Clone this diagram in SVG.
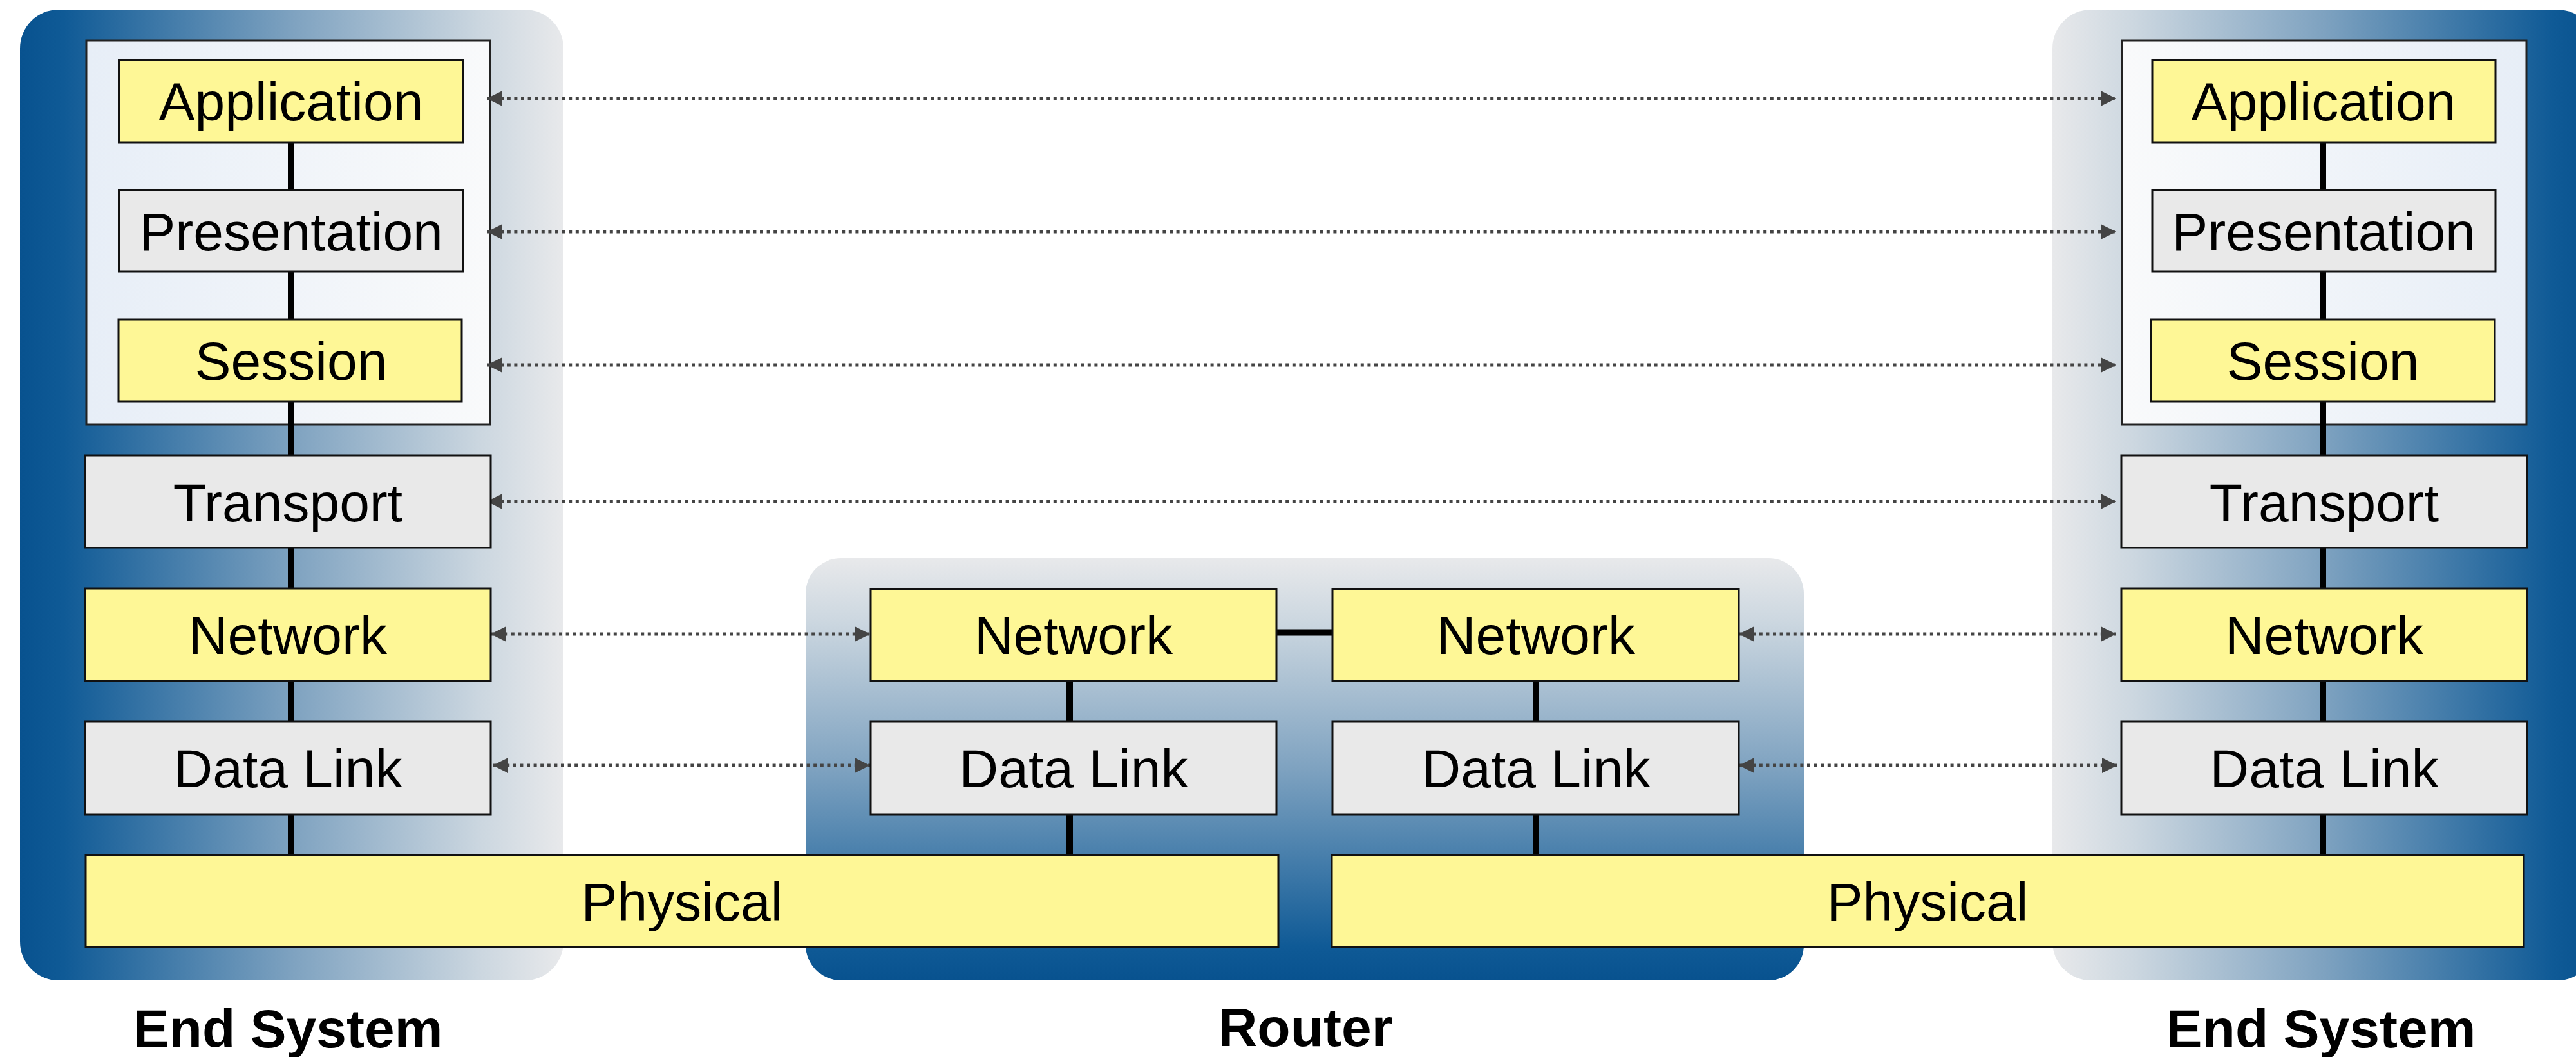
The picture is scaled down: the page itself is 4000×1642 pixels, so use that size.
<svg xmlns="http://www.w3.org/2000/svg" width="4000" height="1642" viewBox="0 0 4000 1642">
  <defs>
    <linearGradient id="gradLeft" x1="0" y1="0" x2="1" y2="0">
      <stop offset="0" stop-color="#08528f"/>
      <stop offset="0.08" stop-color="#0f5a96"/>
      <stop offset="0.5" stop-color="#7ea2c0"/>
      <stop offset="0.85" stop-color="#ccd7e0"/>
      <stop offset="1" stop-color="#e8e9eb"/>
    </linearGradient>
    <linearGradient id="gradRight" x1="1" y1="0" x2="0" y2="0">
      <stop offset="0" stop-color="#08528f"/>
      <stop offset="0.08" stop-color="#0f5a96"/>
      <stop offset="0.5" stop-color="#7ea2c0"/>
      <stop offset="0.85" stop-color="#ccd7e0"/>
      <stop offset="1" stop-color="#e8e9eb"/>
    </linearGradient>
    <linearGradient id="gradRouter" x1="0" y1="1" x2="0" y2="0">
      <stop offset="0" stop-color="#08528f"/>
      <stop offset="0.08" stop-color="#0f5a96"/>
      <stop offset="0.5" stop-color="#7ea2c0"/>
      <stop offset="0.85" stop-color="#ccd7e0"/>
      <stop offset="1" stop-color="#e8e9eb"/>
    </linearGradient>
    <linearGradient id="upperLeft" x1="0" y1="0" x2="1" y2="0">
      <stop offset="0" stop-color="#e7eef7"/>
      <stop offset="1" stop-color="#f9fafb"/>
    </linearGradient>
    <linearGradient id="upperRight" x1="1" y1="0" x2="0" y2="0">
      <stop offset="0" stop-color="#e7eef7"/>
      <stop offset="1" stop-color="#f9fafb"/>
    </linearGradient>
    <marker id="head" markerUnits="userSpaceOnUse" markerWidth="26" markerHeight="26" viewBox="0 0 26 26" refX="25" refY="13" orient="auto-start-reverse">
      <path d="M1,1 L25,13 L1,25 z" fill="#444444"/>
    </marker>
    <style>
      .layer { stroke: #111111; stroke-width: 3; }
      .yellow { fill: #fef796; }
      .grey { fill: #e9e9e9; }
      .upper { stroke: #222222; stroke-width: 3; }
      .label { font-family: "Liberation Sans", Arial, sans-serif; font-size: 84px; fill: #000000; text-anchor: middle; }
      .title { font-family: "Liberation Sans", Arial, sans-serif; font-size: 84px; font-weight: bold; fill: #000000; text-anchor: middle; }
      .stem { stroke: #000000; stroke-width: 10; fill: none; }
      .peer { stroke: #444444; stroke-width: 5; stroke-dasharray: 5 5.6; fill: none; marker-start: url(#head); marker-end: url(#head); }
    </style>
  </defs>

  <rect width="4000" height="1642" fill="#ffffff"/>

  <!-- Containers -->
  <g id="endSystemLeft">
    <rect x="31" y="15" width="844" height="1508" rx="60" ry="60" fill="url(#gradLeft)"/>
    <rect class="upper" x="134" y="63" width="627" height="596" fill="url(#upperLeft)"/>
    <text class="title" x="447" y="1627">End System</text>
  </g>
  <g id="router">
    <rect x="1251" y="867" width="1550" height="656" rx="55" ry="55" fill="url(#gradRouter)"/>
    <text class="title" x="2027" y="1625">Router</text>
  </g>
  <g id="endSystemRight">
    <rect x="3187" y="15" width="844" height="1508" rx="60" ry="60" fill="url(#gradRight)"/>
    <rect class="upper" x="3295" y="63" width="628" height="596" fill="url(#upperRight)"/>
    <text class="title" x="3604" y="1627">End System</text>
  </g>

  <!-- Connectors -->
  <g id="connectors">
    <line class="stem" x1="452" y1="221" x2="452" y2="1328"/>
    <line class="stem" x1="3607" y1="221" x2="3607" y2="1328"/>
    <line class="stem" x1="1661" y1="1058" x2="1661" y2="1328"/>
    <line class="stem" x1="2385" y1="1058" x2="2385" y2="1328"/>
    <line class="stem" x1="1982" y1="982.5" x2="2069" y2="982.5" stroke-width="11"/>

    <line class="peer" x1="756" y1="153" x2="3286" y2="153"/>
    <line class="peer" x1="756" y1="360" x2="3286" y2="360"/>
    <line class="peer" x1="756" y1="567" x2="3286" y2="567"/>
    <line class="peer" x1="756" y1="779" x2="3286" y2="779"/>
    <line class="peer" x1="762" y1="985" x2="1351" y2="985"/>
    <line class="peer" x1="2700" y1="985" x2="3286" y2="985"/>
    <line class="peer" x1="765" y1="1189" x2="1351" y2="1189"/>
    <line class="peer" x1="2700" y1="1189" x2="3288" y2="1189"/>
  </g>

  <!-- Left end system layers -->
  <g id="leftApplication"><rect class="layer yellow" x="185" y="93" width="534" height="128"/><text class="label" x="452" y="187">Application</text></g>
  <g id="leftPresentation"><rect class="layer grey" x="185" y="295" width="534" height="127"/><text class="label" x="452" y="389">Presentation</text></g>
  <g id="leftSession"><rect class="layer yellow" x="184" y="496" width="533" height="128"/><text class="label" x="452" y="590">Session</text></g>
  <g id="leftTransport"><rect class="layer grey" x="132" y="708" width="630" height="143"/><text class="label" x="447" y="810">Transport</text></g>
  <g id="leftNetwork"><rect class="layer yellow" x="132" y="914" width="630" height="144"/><text class="label" x="447" y="1016">Network</text></g>
  <g id="leftDataLink"><rect class="layer grey" x="132" y="1121" width="630" height="144"/><text class="label" x="447" y="1223">Data Link</text></g>
  <g id="leftPhysical"><rect class="layer yellow" x="133" y="1328" width="1852" height="143"/><text class="label" x="1059" y="1430">Physical</text></g>

  <!-- Router layers -->
  <g id="routerNetworkLeft"><rect class="layer yellow" x="1352" y="915" width="630" height="143"/><text class="label" x="1667" y="1016">Network</text></g>
  <g id="routerNetworkRight"><rect class="layer yellow" x="2069" y="915" width="631" height="143"/><text class="label" x="2385" y="1016">Network</text></g>
  <g id="routerDataLinkLeft"><rect class="layer grey" x="1352" y="1121" width="630" height="144"/><text class="label" x="1667" y="1223">Data Link</text></g>
  <g id="routerDataLinkRight"><rect class="layer grey" x="2069" y="1121" width="631" height="144"/><text class="label" x="2385" y="1223">Data Link</text></g>

  <!-- Right end system layers -->
  <g id="rightApplication"><rect class="layer yellow" x="3342" y="93" width="533" height="128"/><text class="label" x="3608" y="187">Application</text></g>
  <g id="rightPresentation"><rect class="layer grey" x="3342" y="295" width="533" height="127"/><text class="label" x="3608" y="389">Presentation</text></g>
  <g id="rightSession"><rect class="layer yellow" x="3340" y="496" width="534" height="128"/><text class="label" x="3607" y="590">Session</text></g>
  <g id="rightTransport"><rect class="layer grey" x="3294" y="708" width="630" height="143"/><text class="label" x="3609" y="810">Transport</text></g>
  <g id="rightNetwork"><rect class="layer yellow" x="3294" y="914" width="630" height="144"/><text class="label" x="3609" y="1016">Network</text></g>
  <g id="rightDataLink"><rect class="layer grey" x="3294" y="1121" width="630" height="144"/><text class="label" x="3609" y="1223">Data Link</text></g>
  <g id="rightPhysical"><rect class="layer yellow" x="2068" y="1328" width="1851" height="143"/><text class="label" x="2993" y="1430">Physical</text></g>
</svg>
